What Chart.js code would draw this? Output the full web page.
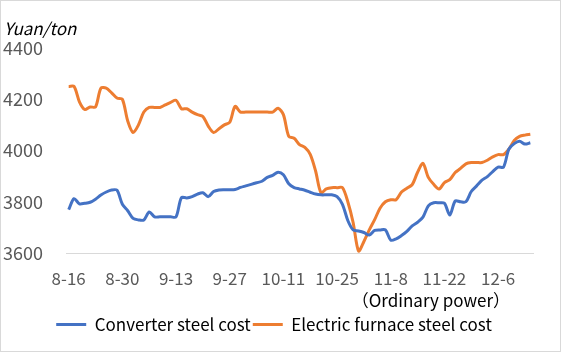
<!DOCTYPE html>
<html lang="en">
<head>
    <meta charset="UTF-8">
    <title>Converter vs electric furnace steel cost</title>
    <script src="https://cdn.jsdelivr.net/npm/chart.js"></script>
    <style>
        html, body { margin: 0; padding: 0; background: #fff; }
        #wrap { width: 561px; height: 352px; }
    </style>
</head>
<body>
    <div id="wrap"><canvas id="costChart" width="561" height="352"></canvas></div>
    <script>
        // weekdays starting Mon 2021-08-16, one label every 10th point
        const startDate = '2021-08-16';
        const pointCount = 87;
        const labelEvery = 10;

        const yTicks = [3600, 3800, 4000, 4200, 4400];
        const unitLabel = 'Yuan/ton';
        const noteLabel = '（Ordinary power）';
        const seriesNames = ['Converter steel cost', 'Electric furnace steel cost'];

        const converterCost = [
            3769, 3812, 3792, 3794, 3798, 3810, 3826, 3838, 3846, 3845,
            3790, 3765, 3735, 3729, 3729, 3760, 3741, 3741, 3741, 3741,
            3741, 3816, 3815, 3820, 3830, 3835, 3820, 3840, 3846, 3847,
            3847, 3848, 3856, 3862, 3868, 3874, 3880, 3895, 3903, 3915,
            3905, 3870, 3855, 3850, 3845, 3837, 3830, 3827, 3827, 3827,
            3820, 3790, 3727, 3690, 3686, 3680, 3670, 3688, 3690, 3690,
            3650, 3655, 3668, 3684, 3706, 3720, 3740, 3784, 3796, 3796,
            3794, 3748, 3803, 3800, 3800, 3840, 3862, 3884, 3898, 3918,
            3935, 3935, 4005, 4027, 4036, 4025, 4030
        ];

        const furnaceCost = [
            4250, 4250, 4190, 4160, 4170, 4170, 4243, 4243, 4225, 4205,
            4200, 4115, 4070, 4100, 4150, 4168, 4168, 4168, 4178, 4188,
            4196, 4163, 4163, 4150, 4140, 4133, 4095, 4070, 4085, 4100,
            4110, 4172, 4150, 4150, 4150, 4150, 4150, 4150, 4150, 4165,
            4140, 4055, 4048, 4023, 4012, 3985, 3920, 3835, 3850, 3855,
            3855, 3855, 3800, 3718, 3608, 3645, 3690, 3730, 3775, 3800,
            3808, 3808, 3838, 3853, 3867, 3915, 3950, 3895, 3868, 3850,
            3875, 3886, 3914, 3930, 3948, 3953, 3953, 3953, 3962, 3975,
            3984, 3984, 4005, 4039, 4055, 4060, 4063
        ];

        function weekdayLabels(start, count) {
            const out = [];
            const d = new Date(start + 'T00:00:00');
            while (out.length < count) {
                const wd = d.getDay();
                if (wd !== 0 && wd !== 6) {
                    out.push((d.getMonth() + 1) + '-' + d.getDate());
                }
                d.setDate(d.getDate() + 1);
            }
            return out;
        }

        const dateLabels = weekdayLabels(startDate, pointCount);

        const fontFamily = '"Noto Sans CJK SC", "Noto Sans", sans-serif';

        // frame, unit label and note text; nudge legend a bit to the right
        const extraText = {
            id: 'extraText',
            afterLayout(chart) {
                if (chart.legend) {
                    chart.legend.left += 6;
                    chart.legend.right += 6;
                }
            },
            beforeDraw(chart) {
                const ctx = chart.ctx;
                ctx.save();
                ctx.fillStyle = '#fff';
                ctx.fillRect(0, 0, chart.width, chart.height);
                ctx.restore();
            },
            afterDraw(chart) {
                const ctx = chart.ctx;
                ctx.save();
                ctx.strokeStyle = '#d9d9d9';
                ctx.lineWidth = 1;
                ctx.strokeRect(0.5, 0.5, chart.width - 1, chart.height - 1);

                ctx.fillStyle = '#000';
                ctx.textBaseline = 'middle';
                ctx.font = 'italic 17px ' + fontFamily;
                ctx.textAlign = 'left';
                ctx.fillText(unitLabel, 4, 29);

                ctx.font = '17px ' + fontFamily;
                ctx.textAlign = 'right';
                ctx.fillText(noteLabel, 510, 301);
                ctx.restore();
            }
        };

        const ctx = document.getElementById('costChart').getContext('2d');
        new Chart(ctx, {
            type: 'line',
            data: {
                labels: dateLabels,
                datasets: [{
                    label: seriesNames[0],
                    data: converterCost,
                    borderColor: '#4472C4',
                    backgroundColor: '#4472C4',
                    borderWidth: 3,
                    pointRadius: 0,
                    tension: 0.3
                }, {
                    label: seriesNames[1],
                    data: furnaceCost,
                    borderColor: '#ED7D31',
                    backgroundColor: '#ED7D31',
                    borderWidth: 3,
                    pointRadius: 0,
                    tension: 0.3
                }]
            },
            options: {
                responsive: false,
                animation: false,
                layout: {
                    padding: { left: 3, right: 28, top: 48, bottom: 9 }
                },
                plugins: {
                    legend: {
                        position: 'bottom',
                        labels: {
                            usePointStyle: true,
                            pointStyle: 'line',
                            pointStyleWidth: 30,
                            padding: 2,
                            color: '#000',
                            font: { family: fontFamily, size: 17 }
                        }
                    },
                    tooltip: { enabled: false }
                },
                scales: {
                    x: {
                        offset: true,
                        grid: { display: false },
                        border: { display: true, color: '#d9d9d9', width: 1 },
                        ticks: {
                            autoSkip: false,
                            maxRotation: 0,
                            color: '#595959',
                            font: { family: fontFamily, size: 17 },
                            padding: 7,
                            callback: function(value, index) {
                                return index % labelEvery === 0 ? dateLabels[index] : '';
                            }
                        },
                        afterFit: function(scale) { scale.height = 61; }
                    },
                    y: {
                        min: yTicks[0],
                        max: yTicks[yTicks.length - 1],
                        grid: { display: false },
                        border: { display: false },
                        afterBuildTicks: function(scale) {
                            scale.ticks = yTicks.map(v => ({ value: v }));
                        },
                        ticks: {
                            color: '#595959',
                            font: { family: fontFamily, size: 18 },
                            crossAlign: 'far',
                            callback: function(value) { return String(value); }
                        },
                        afterFit: function(scale) { scale.width = 63; }
                    }
                }
            },
            plugins: [extraText]
        });
    </script>
</body>
</html>
